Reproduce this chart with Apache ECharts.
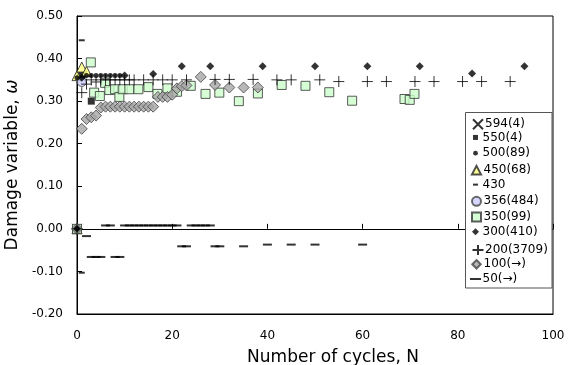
<!DOCTYPE html>
<html>
<head>
<meta charset="utf-8">
<script src="https://cdn.jsdelivr.net/npm/echarts@6/dist/echarts.min.js"></script>
<style>
  html, body { margin: 0; padding: 0; background: #fff; }
  #chart { width: 573px; height: 365px; }
</style>
</head>
<body>
<div id="chart"></div>
<script>
// Damage variable vs. number of cycles, one series per stress level
const yTicks = [-0.2, -0.1, 0, 0.1, 0.2, 0.3, 0.4, 0.5];
const xTicks = [0, 20, 40, 60, 80, 100];

const s594 = [[0, 0], [1, 0.355]];
const s550 = [[0, 0], [1, 0.36], [3, 0.30]];
const s500 = [[0, 0], [0, 0.355], [2, 0.36], [3, 0.36], [4, 0.36], [5, 0.36], [6, 0.36], [7, 0.36], [8, 0.36], [9, 0.36]];
const s450 = [[0, 0], [0, 0.36], [1, 0.38], [2, 0.37]];
const s430 = [[1, 0.443], [1, -0.103]];
const s356 = [[0, 0], [1, 0.345]];
const s350 = [[0, 0], [2.9, 0.391], [3.6, 0.32], [4.8, 0.312], [5.9, 0.343], [6.8, 0.326], [8, 0.328], [8.9, 0.31],
  [9.6, 0.328], [11, 0.328], [12.9, 0.328], [15, 0.333], [16.9, 0.317], [19, 0.33], [21, 0.322], [23.9, 0.336],
  [27, 0.317], [29.9, 0.32], [34, 0.30], [38, 0.318], [43, 0.338], [48, 0.336], [53, 0.321], [57.8, 0.301],
  [68.8, 0.305], [69.9, 0.303], [70.9, 0.317]];
const s300 = [[0, 0], [1, 0.355], [10, 0.36], [16, 0.364], [22, 0.382], [28, 0.382], [39, 0.382], [50, 0.382],
  [61, 0.382], [72, 0.382], [83, 0.365], [94, 0.382]];
const s200 = [[0, 0], [1, 0.32], [2, 0.34], [3, 0.35], [4, 0.345], [5, 0.35], [6, 0.35], [7, 0.35], [8, 0.35],
  [9, 0.35], [10, 0.35], [11, 0.35], [12, 0.35], [14, 0.35], [16, 0.35], [18, 0.35], [20, 0.35], [23, 0.35],
  [29, 0.351], [32, 0.351], [37, 0.351], [42, 0.35], [45, 0.35], [51, 0.35], [55, 0.346], [61, 0.346],
  [65, 0.346], [71, 0.346], [75, 0.346], [81, 0.346], [85, 0.346], [91, 0.346]];
const s100 = [[0, 0], [1, 0.235], [2, 0.258], [3, 0.262], [4, 0.266], [5, 0.285], [6, 0.287], [7, 0.287],
  [8, 0.287], [9, 0.287], [10, 0.287], [11, 0.287], [12, 0.287], [13, 0.287], [14, 0.287], [15, 0.287],
  [16, 0.287], [17, 0.31], [18, 0.31], [19, 0.31], [20, 0.315], [21, 0.33], [22, 0.335], [23, 0.337],
  [26, 0.357], [29, 0.338], [32, 0.332], [35, 0.332], [38, 0.332]];
const s50 = [[2, -0.017], [3, -0.066], [4, -0.066], [5, -0.066], [8, -0.066], [9, -0.066],
  [6, 0.008], [7, 0.008], [10, 0.008], [11, 0.008], [12, 0.008], [13, 0.008], [14, 0.008], [15, 0.008],
  [16, 0.008], [17, 0.008], [18, 0.008], [19, 0.008], [20, 0.008], [21, 0.008],
  [24, 0.008], [25, 0.008], [26, 0.008], [27, 0.008], [28, 0.008],
  [22, -0.041], [23, -0.041], [29, -0.041], [30, -0.041], [35, -0.041],
  [40, -0.037], [45, -0.037], [50, -0.037], [60, -0.037]];

const PLUS = 'path://M0,5L10,5M5,0L5,10';
const CROSS = 'path://M0,0L10,10M10,0L0,10';
const FONT = 'DejaVu Sans';

// legend icons inside a fixed 12x14 box so small markers stay small
const BOX = 'path://M0,0M12,14';
const icons = {
  '594(4)': BOX + 'M1,2L11,12M11,2L1,12',
  '550(4)': BOX + 'M3.5,4.5L8.5,4.5L8.5,9.5L3.5,9.5Z',
  '500(89)': BOX + 'M3.6,7A2.4,2.4,0,1,1,8.4,7A2.4,2.4,0,1,1,3.6,7Z',
  '450(68)': BOX + 'M6,3L10.5,11.5L1.5,11.5Z',
  '430': BOX + 'M3.5,6L8.5,6L8.5,8L3.5,8Z',
  '356(484)': BOX + 'M1.5,7A4.5,4.5,0,1,1,10.5,7A4.5,4.5,0,1,1,1.5,7Z',
  '350(99)': BOX + 'M1.5,2.5L10.5,2.5L10.5,11.5L1.5,11.5Z',
  '300(410)': BOX + 'M6,3.5L9.5,7L6,10.5L2.5,7Z',
  '200(3709)': BOX + 'M0.5,7L11.5,7M6,2L6,12',
  '100(→)': BOX + 'M6,2.8L10.2,7L6,11.2L1.8,7Z',
  '50(→)': BOX + 'M0.5,6L11.5,6L11.5,8L0.5,8Z'
};

function sc(name, data, symbol, size, style, z) {
  return { name, type: 'scatter', data, symbol, symbolSize: size, itemStyle: style, z: z || 2,
    xAxisIndex: 1, emphasis: { disabled: true } };
}

const series = [
  sc('594(4)', s594, CROSS, 10, { color: 'none', borderColor: '#000', borderWidth: 1 }),
  sc('550(4)', s550, 'rect', 7, { color: '#000' }),
  sc('500(89)', s500, 'circle', 5, { color: '#000' }, 4),
  sc('450(68)', s450, 'triangle', 10, { color: '#ffff80', borderColor: '#222', borderWidth: 1 }),
  sc('430', s430, 'rect', [6, 2], { color: '#000' }),
  sc('356(484)', s356, 'circle', 9, { color: '#ccccff', borderColor: '#444', borderWidth: 1 }),
  sc('350(99)', s350, 'rect', 9, { color: '#ccffcc', borderColor: '#333', borderWidth: 1 }),
  sc('300(410)', s300, 'diamond', 8, { color: '#000' }, 4),
  sc('200(3709)', s200, PLUS, 11, { color: 'none', borderColor: '#000', borderWidth: 1 }, 3),
  sc('100(→)', s100, 'diamond', 11, { color: '#a6a6a6', borderColor: '#444', borderWidth: 1 }),
  sc('50(→)', s50, 'rect', [9, 2], { color: '#000' })
];

// legend box geometry: one row per series, fixed row pitch
const LEG_X = 465, LEG_Y = 112, LEG_W = 86.5, LEG_H = 175.5;
const ROW0 = 121.7, ROW_STEP = 15.73, ICON_H = 14;

const legends = series.map((s, k) => ({
  orient: 'vertical', left: LEG_X + 4.5, top: ROW0 + ROW_STEP * k - ICON_H / 2,
  padding: 0, itemWidth: 12, itemHeight: ICON_H, itemGap: 0, z: 6,
  textStyle: { color: '#000', fontSize: 12, lineHeight: 12, fontFamily: FONT, padding: [0, 0, 0, -4] },
  selectedMode: false,
  data: [{ name: s.name, icon: icons[s.name] }]
}));

const chart = echarts.init(document.getElementById('chart'), null, { renderer: 'canvas' });
chart.setOption({
  animation: false,
  backgroundColor: '#fff',
  textStyle: { fontFamily: FONT },
  grid: { left: 77, right: 20, top: 16, bottom: 51, show: true, borderColor: '#000', borderWidth: 1,
    containLabel: false, outerBoundsMode: 'none' },
  xAxis: [
    {
      type: 'value', min: xTicks[0], max: xTicks[xTicks.length - 1], interval: 20,
      position: 'bottom',
      axisLine: { onZero: false, lineStyle: { color: '#000', width: 1 } },
      axisTick: { show: false },
      splitLine: { show: false },
      axisLabel: { color: '#000', fontSize: 12, margin: 16, fontFamily: FONT },
      name: 'Number of cycles, N', nameLocation: 'middle', nameGap: 35,
      nameTextStyle: { color: '#000', fontSize: 17, fontFamily: FONT, padding: [0, 0, 0, 36] }
    },
    {
      type: 'value', min: xTicks[0], max: xTicks[xTicks.length - 1], interval: 20,
      position: 'bottom',
      axisLine: { onZero: true, lineStyle: { color: '#000', width: 1 } },
      axisTick: { show: true, inside: true, length: 5, lineStyle: { color: '#000' } },
      splitLine: { show: false },
      axisLabel: { show: false }
    }
  ],
  yAxis: {
    type: 'value', min: yTicks[0], max: yTicks[yTicks.length - 1], interval: 0.1,
    axisLine: { lineStyle: { color: '#000', width: 1 } },
    axisTick: { show: true, inside: true, length: 5, lineStyle: { color: '#000' } },
    splitLine: { show: false },
    axisLabel: { color: '#000', fontSize: 12, margin: 14, fontFamily: FONT,
      formatter: v => v.toFixed(2) },
    name: '{n|Damage variable, }{w|ω}', nameLocation: 'middle', nameGap: 48, nameRotate: 90,
    nameTextStyle: { color: '#000', fontSize: 17, fontFamily: FONT,
      rich: { n: { fontSize: 17, fontFamily: FONT }, w: { fontSize: 17, fontStyle: 'italic', fontFamily: FONT } } }
  },
  graphic: [{
    type: 'rect', z: 5, silent: true,
    shape: { x: LEG_X + 0.5, y: LEG_Y + 0.5, width: LEG_W, height: LEG_H },
    style: { fill: '#fff', stroke: '#555', lineWidth: 1 }
  }],
  legend: legends,
  series: series
});
</script>
</body>
</html>
